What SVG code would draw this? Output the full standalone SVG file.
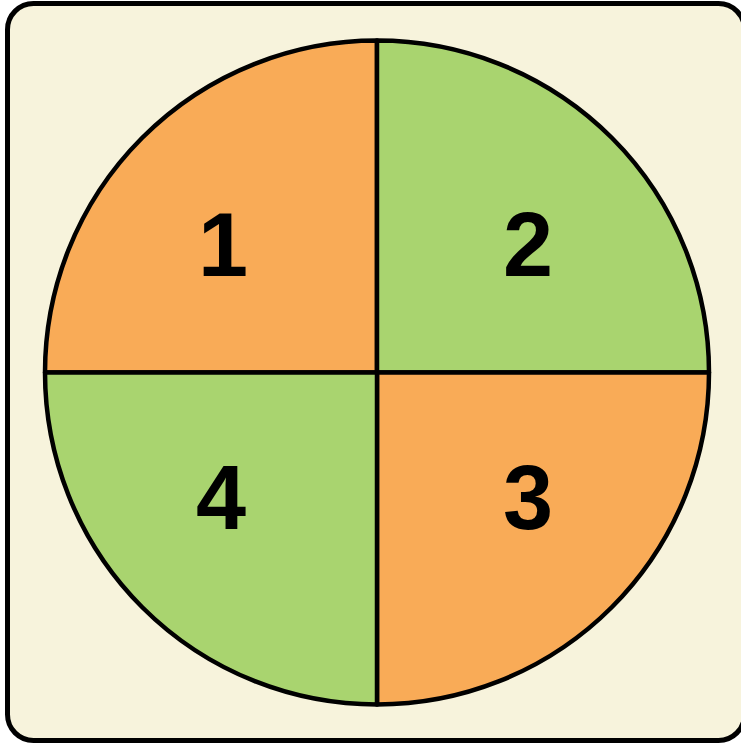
<svg xmlns="http://www.w3.org/2000/svg" width="741" height="745" viewBox="0 0 741 745">
<style>
.bg{fill:#f7f3dc;stroke:#000;stroke-width:5}
.q{stroke:#000;stroke-width:4.5;stroke-linejoin:round}
.o{fill:#f9ab57}
.g{fill:#a9d46f}
.lbl{font-family:"Liberation Sans",Arial,Helvetica,sans-serif;font-weight:bold;font-size:90px;fill:#000;text-anchor:middle}
</style>
<rect class="bg" x="7.5" y="3.5" width="737" height="737" rx="26" ry="26"/>
<g id="q1"><path class="q o" d="M377 372.5 L45 372.5 A332 332 0 0 1 377 40.5 Z"/><text class="lbl" x="223" y="276">1</text></g>
<g id="q2"><path class="q g" d="M377 372.5 L377 40.5 A332 332 0 0 1 709 372.5 Z"/><text class="lbl" x="528" y="276">2</text></g>
<g id="q3"><path class="q o" d="M377 372.5 L709 372.5 A332 332 0 0 1 377 704.5 Z"/><text class="lbl" x="528" y="529">3</text></g>
<g id="q4"><path class="q g" d="M377 372.5 L377 704.5 A332 332 0 0 1 45 372.5 Z"/><text class="lbl" x="221" y="529">4</text></g>
<g id="connectors"/>
</svg>
